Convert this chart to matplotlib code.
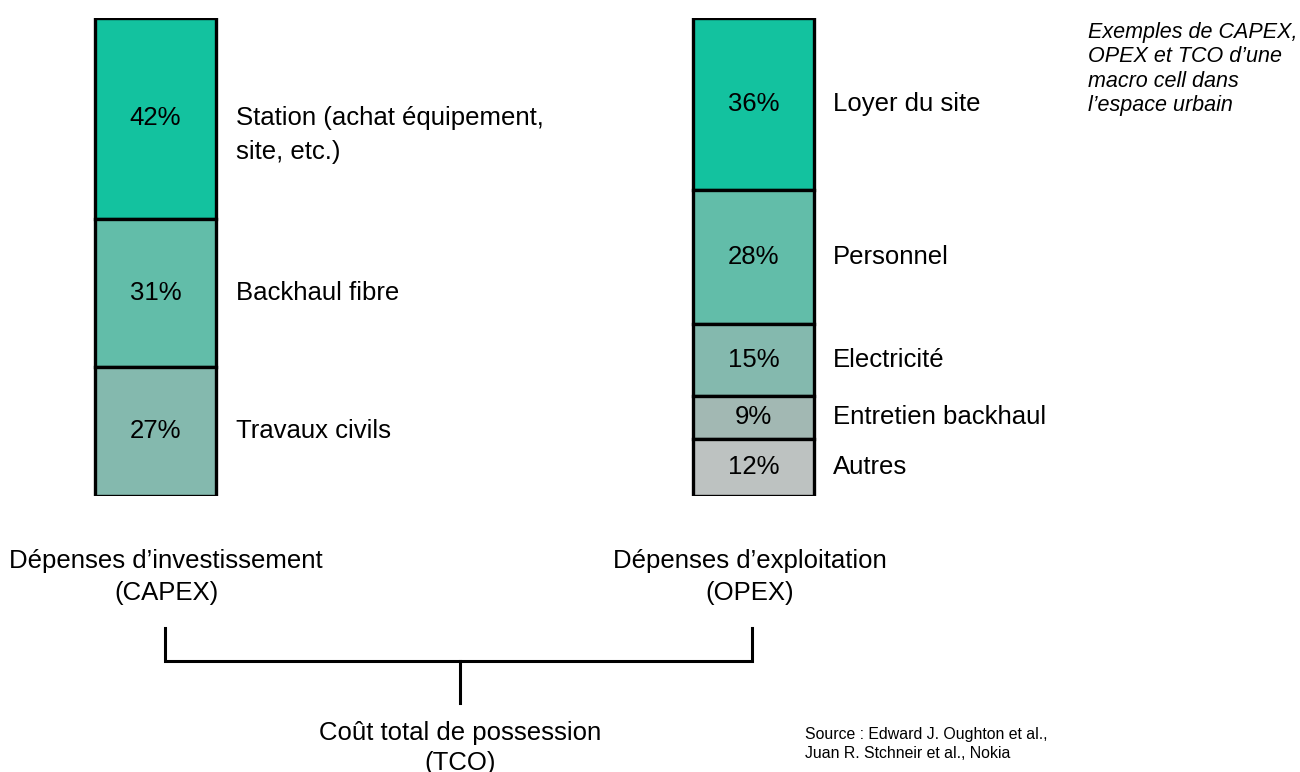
import matplotlib.pyplot as plt

plt.rcParams['font.family'] = ['Liberation Sans', 'DejaVu Sans']

# Donnees
capex_pct = [42, 31, 27]
capex_labels = ['Station (achat équipement,\nsite, etc.)', 'Backhaul fibre', 'Travaux civils']
capex_colors = ['#13c29f', '#62bda9', '#84b9ae']

opex_pct = [36, 28, 15, 9, 12]
opex_labels = ['Loyer du site', 'Personnel', 'Electricité', 'Entretien backhaul', 'Autres']
opex_colors = ['#13c29f', '#62bda9', '#84b9ae', '#a2b8b3', '#bdc2c1']

W, H = 1300, 772
fig = plt.figure(figsize=(13, 7.72), dpi=100)

# axe pour le texte et l'accolade, en pixels
ax = fig.add_axes([0, 0, 1, 1])
ax.set_xlim(0, W)
ax.set_ylim(H, 0)
ax.axis('off')

# axe des barres: y de 18 a 496 px
top, bot = 18, 496
axb = fig.add_axes([0, 1 - bot / H, 1, (bot - top) / H])
axb.set_xlim(0, W)
axb.set_ylim(100, 0)
axb.axis('off')

FS = 18.5

def stacked(xc, pcts, labels, colors, label_x):
    start = 0
    for p, lab, c in zip(pcts, labels, colors):
        axb.bar(xc, p, bottom=start, width=121, color=c, edgecolor='black',
                linewidth=2.4, align='center')
        mid = start + p / 2
        axb.text(xc, mid, f'{p}%', ha='center', va='center', fontsize=FS)
        # la premiere ligne du libelle s'aligne sur le pourcentage
        for i, line in enumerate(lab.split('\n')):
            axb.annotate(line, (label_x, mid), xytext=(0, -i * 24.5),
                         textcoords='offset points', ha='left', va='center',
                         fontsize=FS)
        start += p

stacked(155.5, capex_pct, capex_labels, capex_colors, 236)
stacked(753.5, opex_pct, opex_labels, opex_colors, 833)

# titres
ax.text(166, 577, 'Dépenses d\u2019investissement\n(CAPEX)', ha='center', va='center',
        fontsize=FS, linespacing=1.42)
ax.text(750, 577, 'Dépenses d\u2019exploitation\n(OPEX)', ha='center', va='center',
        fontsize=FS, linespacing=1.42)
ax.text(460, 748, 'Coût total de possession\n(TCO)', ha='center', va='center',
        fontsize=FS, linespacing=1.35)

# accolade
ax.plot([165, 165, 752, 752], [628, 661, 661, 628], color='black', lw=2.2,
        solid_joinstyle='miter')
ax.plot([460, 460], [661, 703], color='black', lw=2.2)

ax.text(1088, 69, 'Exemples de CAPEX,\nOPEX et TCO d\u2019une\nmacro cell dans\nl\u2019espace urbain',
        ha='left', va='center', fontsize=15.5, style='italic', linespacing=1.2)

ax.text(805, 744, 'Source : Edward J. Oughton et al.,\nJuan R. Stchneir et al., Nokia',
        ha='left', va='center', fontsize=11.4, linespacing=1.3)

fig.savefig('out.png', dpi=100)
